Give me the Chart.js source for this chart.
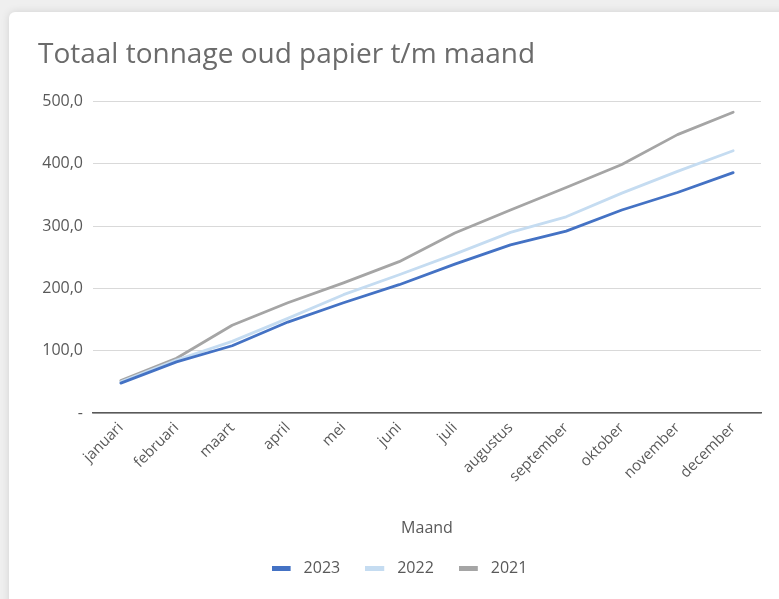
<!DOCTYPE html>
<html>
<head>
<meta charset="utf-8">
<script src="https://cdn.jsdelivr.net/npm/chart.js@4/dist/chart.umd.min.js"></script>
<style>
  html, body { margin: 0; padding: 0; }
  body { width: 779px; height: 599px; background: #efefef; position: relative; overflow: hidden; }
  #card { position: absolute; left: 9px; top: 12px; width: 820px; height: 640px; background: #ffffff;
          border-radius: 6px; box-shadow: 0 0 8px rgba(0,0,0,0.12); }
  #wrap { position: absolute; left: 0; top: 0; width: 779px; height: 599px; }
</style>
</head>
<body>
<div id="card"></div>
<div id="wrap"><canvas id="c" width="779" height="599"></canvas></div>
<script>
const months = ['januari', 'februari', 'maart', 'april', 'mei', 'juni', 'juli', 'augustus', 'september', 'oktober', 'november', 'december'];
const seriesNames = ['2023', '2022', '2021'];
const values2023 = [48, 82, 108, 146, 177, 206, 239, 270, 292, 326, 354, 386];
const values2022 = [50, 85, 115, 152, 190, 222, 255, 290, 315, 353, 388, 421];
const values2021 = [52, 88, 141, 177, 209, 243, 289, 326, 362, 399, 447, 483];
const yTicks = [0, 100, 200, 300, 400, 500];
const chartTitle = 'Totaal tonnage oud papier t/m maand';
const xTitle = 'Maand';

const colors = ['#4472C4', '#C5DCF1', '#A5A5A5'];
const FONT = "'Open Sans', 'Noto Sans', sans-serif";

Chart.defaults.font.family = FONT;
Chart.defaults.color = '#595959';

// legend swatch: coloured bar with a little transparent space after it
function swatch(color) {
  const c = document.createElement('canvas');
  c.width = 24; c.height = 5;
  const g = c.getContext('2d');
  g.fillStyle = color;
  g.fillRect(0, 0, 19, 5);
  return c;
}

new Chart(document.getElementById('c'), {
  type: 'line',
  data: {
    labels: months,
    datasets: [values2023, values2022, values2021].map((v, i) => ({
      label: seriesNames[i],
      data: v,
      borderColor: colors[i],
      backgroundColor: colors[i],
      borderWidth: 2.8,
      pointRadius: 0,
      pointStyle: swatch(colors[i]),
      tension: 0,
      borderJoinStyle: 'round',
      borderCapStyle: 'round'
    }))
  },
  options: {
    responsive: false,
    animation: false,
    layout: { padding: { left: 38, right: 18, top: 0, bottom: 13 } },
    plugins: {
      title: {
        display: true,
        text: chartTitle,
        align: 'start',
        color: '#6b6b6b',
        font: { size: 28, weight: 'normal', family: FONT },
        padding: { top: 38, bottom: 30 }
      },
      legend: {
        position: 'bottom',
        labels: {
          usePointStyle: true,
          pointStyleWidth: 24,
          boxHeight: 5,
          padding: 25,
          color: '#595959',
          font: { size: 16, family: FONT }
        }
      },
      tooltip: { enabled: false }
    },
    scales: {
      x: {
        offset: true,
        grid: { display: false, drawTicks: false, offset: true },
        border: { display: true, color: '#595959', width: 1.5 },
        ticks: { autoSkip: false, maxRotation: 45, minRotation: 45, padding: 6,
                 color: '#595959', font: { size: 15, family: FONT } },
        title: { display: true, text: xTitle, color: '#595959',
                 font: { size: 16, family: FONT }, padding: { top: 0, bottom: -2.6 } },
        afterFit: s => { s.height = 122; }
      },
      y: {
        min: 0, max: 500,
        afterBuildTicks: s => { s.ticks = yTicks.map(v => ({ value: v })); },
        grid: { color: '#d9d9d9', lineWidth: 1, drawTicks: false },
        border: { display: false },
        ticks: {
          padding: 10,
          color: '#595959',
          font: { size: 16, family: FONT },
          callback: v => v === 0 ? '-' : v.toFixed(1).replace('.', ',')
        },
        afterFit: s => { s.width = 55; }
      }
    }
  }
});
</script>
</body>
</html>
